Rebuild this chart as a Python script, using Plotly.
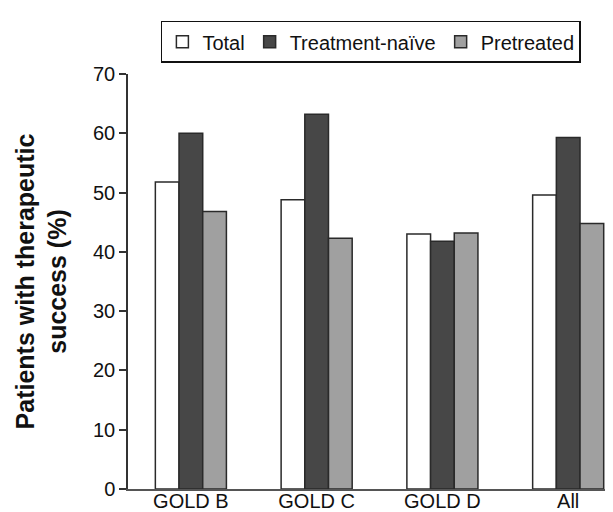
import plotly.graph_objects as go

categories = ["GOLD B", "GOLD C", "GOLD D", "All"]
total = [51.8, 48.8, 43.0, 49.6]
naive = [60.0, 63.2, 41.8, 59.3]
pretreated = [46.8, 42.3, 43.2, 44.8]

series = [
    ("Total", total, "#ffffff"),
    ("Treatment-naïve", naive, "#474747"),
    ("Pretreated", pretreated, "#a0a0a0"),
]

fig = go.Figure()
for name, vals, col in series:
    fig.add_trace(go.Bar(
        x=categories, y=vals, name=name,
        marker=dict(color=col, line=dict(color="#2a2a2a", width=1.5)),
    ))

fig.update_layout(
    width=613, height=512,
    margin=dict(l=120, r=0, t=66, b=31),
    paper_bgcolor="white", plot_bgcolor="white",
    barmode="group", bargap=0.435, bargroupgap=0,
    font=dict(family="Liberation Sans, Arial, sans-serif", color="#111111"),
    showlegend=True,
    legend=dict(
        orientation="h", x=0.592, xanchor="center", xref="container",
        y=0.975, yanchor="top", yref="container",
        bordercolor="#111111", borderwidth=1.5, bgcolor="white",
        font=dict(size=20), itemwidth=30, traceorder="normal",
        tracegroupgap=0,
    ),
    xaxis=dict(
        range=[-0.5, 3.42], showline=True, linecolor="#555555", linewidth=1.5,
        ticks="", tickfont=dict(size=20), showgrid=False, zeroline=False,
        ticklabelstandoff=-7,
    ),
    yaxis=dict(
        range=[0, 70], dtick=10, showline=True, linecolor="#333333", linewidth=1.5,
        ticks="outside", ticklen=7, tickcolor="#333333", tickwidth=1.5,
        tickfont=dict(size=20), showgrid=False, zeroline=False,
        title=dict(text="<b>Patients with therapeutic<br>success (%)</b>",
                   font=dict(size=25), standoff=19),
    ),
)

fig.write_html("out.html")
